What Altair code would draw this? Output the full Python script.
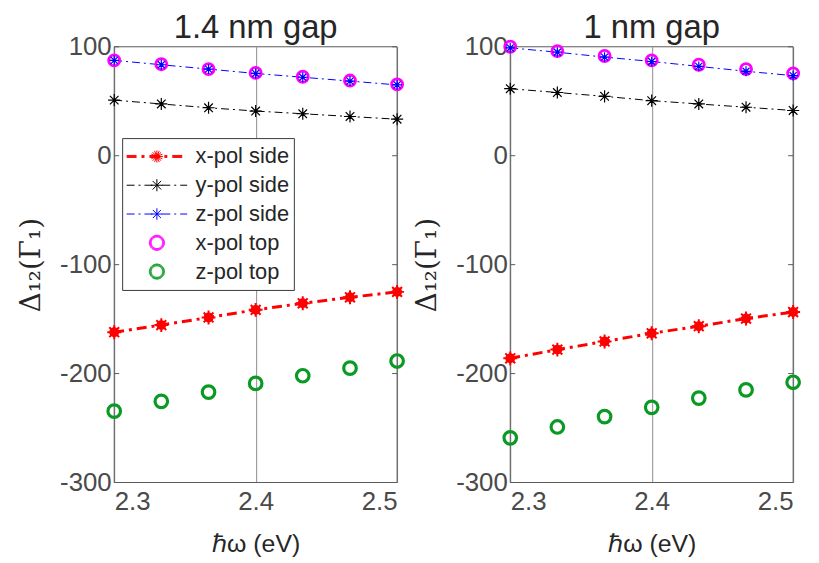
import math
import altair as alt
import pandas as pd

# ---------------- data ----------------
energy = [2.3, 2.3333, 2.3667, 2.4, 2.4333, 2.4667, 2.5]
series_names = ["x-pol side", "y-pol side", "z-pol side", "x-pol top", "z-pol top"]
panel_titles = ["1.4 nm gap", "1 nm gap"]

# 1.4 nm gap
xside_14 = [-162, -155.5, -148.5, -141.5, -135.5, -130, -125]
yside_14 = [51, 47.5, 44, 41, 38.5, 36, 33.5]
zside_14 = [87.5, 83.5, 79.5, 75.5, 72, 68.5, 65]
xtop_14 = [87.5, 84, 79.5, 76, 72.5, 69, 65.5]
ztop_14 = [-234.5, -225.5, -217, -209, -202, -195, -188.5]

# 1 nm gap
xside_10 = [-186, -178, -170.5, -163, -156.5, -149.5, -143.5]
yside_10 = [61.5, 58, 54.5, 50.5, 47.5, 44.5, 41.5]
zside_10 = [99, 95, 90.5, 86.5, 82, 77.5, 73.5]
xtop_10 = [100, 96, 91.5, 87.5, 83.5, 79.5, 75.5]
ztop_10 = [-259, -249, -239.5, -231, -222.5, -215, -208]

x_domain = [2.3, 2.5]
y_domain = [-300, 100]
x_ticks = [2.3, 2.4, 2.5]
y_ticks = [-300, -200, -100, 0, 100]

# ---------------- styling ----------------
PANEL_W = 285
PANEL_H = 439
SANS = "Liberation Sans"
LABEL_COLOR = "#4a4a4a"
TEXT_COLOR = "#262626"
FRAME_COLOR = "#5a5a5a"

colors = ["#ff0000", "#000000", "#0000ff", "#ff00ff", "#0a9a24"]
dashes = [[10, 5, 3, 5], [8, 4, 2, 4], [8, 4, 2, 4], [1, 0], [1, 0]]


def arms(r, n):
    parts = []
    for k in range(n):
        a = 2 * math.pi * k / n
        parts.append(f"M0,0L{r * math.cos(a):.3f},{r * math.sin(a):.3f}")
    return "".join(parts)


def ring(r, n=28):
    pts = [f"{r * math.cos(2 * math.pi * k / n):.3f},{r * math.sin(2 * math.pi * k / n):.3f}" for k in range(n)]
    return "M" + "L".join(pts) + "Z"


def hline(dy):
    return f"M-1,{dy:.3f}L1,{dy:.3f}"


THICK_LINE = hline(-0.033) + hline(0) + hline(0.033)
THIN_LINE = hline(0)
THICK_RING = ring(0.19) + ring(0.21) + ring(0.23) + ring(0.25)
legend_shapes = [
    THICK_LINE + arms(0.2, 16) + arms(0.1, 16),
    THIN_LINE + arms(0.2, 8),
    THIN_LINE + arms(0.19, 8),
    THICK_RING,
    THICK_RING,
]
ASTERISK = arms(1, 8)
TICK_IN_RIGHT = "M0,0L1,0"   # inward tick drawn from the left frame
TICK_IN_LEFT = "M0,0L-1,0"   # inward tick drawn from the right frame

x_scale = alt.Scale(domain=x_domain, nice=False, zero=False, padding=0)
y_scale = alt.Scale(domain=y_domain, nice=False, zero=False, padding=0)

x_axis = alt.Axis(values=x_ticks, labelExpr="format(datum.value, '.1f')",
                  title="ℏω (eV)", grid=True,
                  gridColor="#8c8c8c", gridWidth=1, ticks=False, domain=False,
                  labelFontSize=26, labelColor=LABEL_COLOR, labelFont=SANS,
                  labelPadding=6, titleFontSize=25, titleFont=SANS,
                  titleFontWeight="normal", titleColor=TEXT_COLOR, titlePadding=18)
y_axis = alt.Axis(values=y_ticks, labelExpr="toString(datum.value)",
                  title="Δ₁₂(Γ₁)", grid=False, ticks=False,
                  domain=False, labelFontSize=26, labelColor=LABEL_COLOR,
                  labelFont=SANS, labelPadding=3, titleFontSize=28,
                  titleFont="DejaVu Serif", titleFontWeight="normal",
                  titleColor=TEXT_COLOR, titlePadding=14)


def X(field):
    return alt.X(field, scale=x_scale, axis=x_axis)


def Y(field):
    return alt.Y(field, scale=y_scale, axis=y_axis)


def make_df(vals):
    rows = []
    for name, arr in zip(series_names, vals):
        for e, v in zip(energy, arr):
            rows.append({"energy": e, "value": v, "series": name})
    return pd.DataFrame(rows)


def panel(df, title, with_legend):
    base = alt.Chart(df).encode(x=X("energy:Q"), y=Y("value:Q"))

    # box frame drawn through the scales
    hframe = alt.Chart(pd.DataFrame({"value": y_domain, "e0": x_domain[0], "e1": x_domain[1]})).mark_rule(
        color=FRAME_COLOR, strokeWidth=1).encode(y=Y("value:Q"), x=X("e0:Q"), x2="e1:Q")
    vframe = alt.Chart(pd.DataFrame({"energy": x_domain, "v0": y_domain[0], "v1": y_domain[1]})).mark_rule(
        color=FRAME_COLOR, strokeWidth=1).encode(x=X("energy:Q"), y=Y("v0:Q"), y2="v1:Q")
    # inward ticks on both vertical sides
    tdf_l = pd.DataFrame({"energy": x_domain[0], "value": y_ticks})
    tdf_r = pd.DataFrame({"energy": x_domain[1], "value": y_ticks})
    ticks_l = alt.Chart(tdf_l).mark_point(shape=TICK_IN_RIGHT, size=100, color=FRAME_COLOR,
                                          strokeWidth=1, opacity=1, filled=False).encode(
        x=X("energy:Q"), y=Y("value:Q"))
    ticks_r = alt.Chart(tdf_r).mark_point(shape=TICK_IN_LEFT, size=100, color=FRAME_COLOR,
                                          strokeWidth=1, opacity=1, filled=False).encode(
        x=X("energy:Q"), y=Y("value:Q"))

    def sel(name):
        return base.transform_filter(alt.datum.series == name)

    layers = [hframe, vframe, ticks_l, ticks_r]
    # lines
    layers.append(sel("x-pol side").mark_line(color=colors[0], strokeWidth=3, strokeDash=dashes[0]))
    layers.append(sel("y-pol side").mark_line(color=colors[1], strokeWidth=1, strokeDash=dashes[1]))
    layers.append(sel("z-pol side").mark_line(color=colors[2], strokeWidth=1, strokeDash=dashes[2]))
    # markers
    layers.append(sel("x-pol side").mark_point(shape="circle", filled=True, color=colors[0], size=100, opacity=1))
    layers.append(sel("x-pol side").mark_point(shape=ASTERISK, filled=False, color=colors[0], size=196, strokeWidth=2, opacity=1))
    layers.append(sel("y-pol side").mark_point(shape=ASTERISK, filled=False, color=colors[1], size=150, strokeWidth=1.2, opacity=1))
    layers.append(sel("x-pol top").mark_point(shape="circle", filled=False, color=colors[3], size=125, strokeWidth=2.8, opacity=1))
    layers.append(sel("z-pol side").mark_point(shape=ASTERISK, filled=False, color=colors[2], size=100, strokeWidth=1.2, opacity=1))
    layers.append(sel("z-pol top").mark_point(shape="circle", filled=False, color=colors[4], size=160, strokeWidth=3.2, opacity=1))

    if with_legend:
        leg = alt.Legend(orient="none", legendX=8, legendY=92, title=None,
                         fillColor="white", strokeColor="#3a3a3a", padding=4,
                         labelFontSize=22, labelFont=SANS, labelColor=TEXT_COLOR,
                         symbolSize=3721, clipHeight=29, rowPadding=0,
                         labelOffset=8, symbolStrokeWidth=1,
                         symbolFillColor="transparent")
        dummy = alt.Chart(df).transform_filter("false").mark_point(filled=False, opacity=1).encode(
            x=X("energy:Q"),
            y=Y("value:Q"),
            color=alt.Color("series:N", scale=alt.Scale(domain=series_names, range=colors), legend=leg),
            shape=alt.Shape("series:N", scale=alt.Scale(domain=series_names, range=legend_shapes), legend=leg),
            strokeDash=alt.StrokeDash("series:N", scale=alt.Scale(domain=series_names, range=dashes), legend=leg),
        )
        layers.append(dummy)

    return alt.layer(*layers).properties(
        width=PANEL_W, height=PANEL_H,
        title=alt.TitleParams(title, fontSize=33, font=SANS, fontWeight="normal",
                              color=TEXT_COLOR, offset=-11, anchor="middle"),
    )


left = panel(make_df([xside_14, yside_14, zside_14, xtop_14, ztop_14]), panel_titles[0], True)
right = panel(make_df([xside_10, yside_10, zside_10, xtop_10, ztop_10]), panel_titles[1], False)

chart = alt.hconcat(left, right, spacing=114, bounds="flush").configure_view(
    strokeOpacity=0
).properties(background="white", padding={"left": 9, "top": 2, "right": 5, "bottom": 0})

chart.save("out.html", embed_options={"renderer": "svg", "actions": False})
